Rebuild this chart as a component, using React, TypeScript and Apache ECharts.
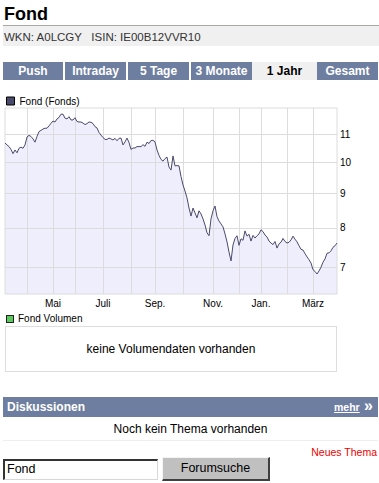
import React, { useEffect, useRef } from "react";
import * as echarts from "echarts";

// ---- data ----
const monthKeys = [
  "2008-03", "2008-04", "2008-05", "2008-06", "2008-07", "2008-08", "2008-09",
  "2008-10", "2008-11", "2008-12", "2009-01", "2009-02", "2009-03",
];
const pricesMar08 = [10.68, 10.61, 10.55, 10.45, 10.3, 10.43, 10.33, 10.49, 10.53, 10.49, 10.61];
const pricesApr08 = [10.9, 10.96, 10.92, 10.83, 10.71, 10.92, 11.1, 11.15, 11.2, 11.23, 11.23, 11.32, 11.42];
const pricesMai08 = [11.51, 11.47, 11.59, 11.65, 11.78, 11.78, 11.62, 11.59, 11.68, 11.55, 11.55];
const pricesJun08 = [11.64, 11.49, 11.47, 11.47, 11.43, 11.37, 11.41, 11.47, 11.46, 11.41, 11.29, 11.24, 11.07, 10.97];
const pricesJul08 = [10.88, 10.81, 10.81, 10.86, 10.83, 10.79, 10.85, 10.76, 10.85, 10.86, 10.61, 10.72, 10.86, 10.7];
const pricesAug08 = [10.45, 10.5, 10.5, 10.55, 10.55, 10.55, 10.62, 10.56, 10.71, 10.66, 10.77, 10.78];
const pricesSep08 = [10.72, 10.43, 10.24, 10.1, 10.04, 10.13, 10.18, 9.84, 9.74, 10.22, 9.88, 9.89, 9.88, 9.53];
const pricesOkt08 = [9.26, 9.07, 8.86, 8.56, 8.33, 8.56, 8.42, 8.28, 8.48, 8.39, 8.25, 8.08, 7.87, 7.79, 8.25];
const pricesNov08 = [8.48, 8.62, 8.31, 8.19, 8.11, 8.03, 7.84, 7.63, 7.37, 7.15, 7.55, 7.72, 7.79];
const pricesDez08 = [7.54, 7.71, 7.67, 7.92, 7.78, 7.83, 7.65, 7.8, 7.73, 7.79, 7.84];
const pricesJan09 = [7.95, 7.9, 7.81, 7.76, 7.65, 7.6, 7.56, 7.64, 7.47, 7.58, 7.62, 7.72, 7.64];
const pricesFeb09 = [7.6, 7.62, 7.68, 7.78, 7.7, 7.63, 7.53, 7.44, 7.42, 7.33, 7.25, 7.18, 7.1];
const pricesMar09 = [6.94, 6.9, 6.84, 6.91, 7.0, 7.12, 7.2, 7.34, 7.35, 7.4, 7.49, 7.53, 7.6];

const monthlyPrices = [
  pricesMar08, pricesApr08, pricesMai08, pricesJun08, pricesJul08, pricesAug08, pricesSep08,
  pricesOkt08, pricesNov08, pricesDez08, pricesJan09, pricesFeb09, pricesMar09,
];
const tickMonths = ["2008-05", "2008-07", "2008-09", "2008-11", "2009-01", "2009-03"];
const tickLabels = ["Mai", "Juli", "Sep.", "Nov.", "Jan.", "März"];
const priceTicks = [7, 8, 9, 10, 11];
const priceMin = 6.39;
const priceMax = 12.03;
const seriesName = "Fond (Fonds)";

// ---- derived ----
const categories: string[] = [];
const prices: number[] = [];
const monthStart: number[] = [];
monthlyPrices.forEach((arr, m) => {
  monthStart.push(categories.length);
  arr.forEach((v, k) => {
    categories.push(`${monthKeys[m]}/${k + 1}`);
    prices.push(v);
  });
});
const gridIdx = new Set(monthStart.slice(1));
const labelAt = new Map<number, string>();
tickMonths.forEach((mk, j) => labelAt.set(monthStart[monthKeys.indexOf(mk)], tickLabels[j]));

const CF = "'Liberation Sans', Arial, sans-serif";
const PF = "'Liberation Sans', Arial, sans-serif";
const BAR = "#6e7ea0";
const GRID = "#dcdcdc";

function Chart() {
  const ref = useRef<HTMLDivElement>(null);
  useEffect(() => {
    if (!ref.current) return;
    const chart = echarts.init(ref.current, undefined, { renderer: "svg" });
    const logData = prices.map((v) => Math.log(v));
    chart.setOption({
      animation: false,
      legend: {
        show: true,
        left: 6,
        top: 6,
        padding: 0,
        icon: "rect",
        itemWidth: 8,
        itemHeight: 8,
        data: [seriesName],
        textStyle: { fontFamily: CF, fontSize: 10, color: "#000" },
        itemStyle: { color: "#4a4a6b", borderColor: "#000", borderWidth: 1 },
        selectedMode: false,
      },
      grid: {
        left: 5,
        top: 18,
        width: 332,
        height: 186,
        show: true,
        backgroundColor: "transparent",
        borderColor: GRID,
        borderWidth: 1,
        z: 3,
      },
      xAxis: {
        type: "category",
        data: categories,
        boundaryGap: false,
        z: 3,
        axisLine: { show: false },
        axisTick: { show: false },
        splitLine: {
          show: true,
          interval: (index: number) => gridIdx.has(index),
          lineStyle: { color: GRID, width: 1 },
        },
        axisLabel: {
          interval: (index: number) => labelAt.has(index),
          formatter: (_v: string, index: number) => labelAt.get(index) ?? "",
          color: "#000",
          fontFamily: CF,
          fontSize: 10,
          margin: 4,
        },
      },
      yAxis: {
        type: "value",
        position: "right",
        min: Math.log(priceMin),
        max: Math.log(priceMax),
        z: 3,
        axisLine: { show: false },
        axisTick: { show: false, customValues: priceTicks.map((v) => Math.log(v)) },
        splitLine: { show: true, lineStyle: { color: GRID, width: 1 } },
        axisLabel: {
          customValues: priceTicks.map((v) => Math.log(v)),
          formatter: (v: number) => String(Math.round(Math.exp(v))),
          color: "#000",
          fontFamily: CF,
          fontSize: 10,
          margin: 3,
        },
      },
      series: [
        {
          name: seriesName,
          type: "line",
          data: logData,
          showSymbol: false,
          symbol: "none",
          silent: true,
          z: 1,
          lineStyle: { width: 0, opacity: 0 },
          areaStyle: { color: "#eeeefd", opacity: 1, origin: "start" },
        },
        {
          name: seriesName,
          type: "line",
          data: logData,
          showSymbol: false,
          symbol: "none",
          silent: true,
          z: 4,
          lineStyle: { width: 1, color: "#4a4a6b" },
          itemStyle: { color: "#4a4a6b" },
        },
      ],
    });
    return () => chart.dispose();
  }, []);
  return <div ref={ref} style={{ position: "absolute", left: 0, top: 90, width: 379, height: 220 }} />;
}

const abs = (s: React.CSSProperties): React.CSSProperties => ({ position: "absolute", ...s });

function Tab({ left, width, label, active }: { left: number; width: number; label: string; active?: boolean }) {
  return (
    <div
      style={abs({
        left,
        top: 62,
        width,
        height: 18,
        background: active ? "#f0f0f0" : BAR,
        color: active ? "#000" : "#fff",
        fontFamily: PF,
        fontWeight: "bold",
        fontSize: 12,
        lineHeight: "18px",
        textAlign: "center",
      })}
    >
      {label}
    </div>
  );
}

export default function App() {
  return (
    <div style={abs({ left: 0, top: 0, width: 379, height: 483, background: "#fff", overflow: "hidden", fontFamily: PF })}>
      <div style={abs({ left: 4, top: 4, fontSize: 18, fontWeight: "bold", lineHeight: "21px", color: "#000" })}>Fond</div>
      <div style={abs({ left: 3, top: 25, width: 376, height: 1, background: "#a3ada3" })} />
      <div style={abs({ left: 3, top: 26, width: 376, height: 20, background: "#f0f0f0" })} />
      <div style={abs({ left: 4, top: 29, fontSize: 11.5, lineHeight: "16px", color: "#333", whiteSpace: "pre" })}>
        {"WKN: A0LCGY   ISIN: IE00B12VVR10"}
      </div>

      <Tab left={3} width={60} label="Push" />
      <Tab left={65} width={61} label="Intraday" />
      <Tab left={128} width={61} label="5 Tage" />
      <Tab left={191} width={61} label="3 Monate" />
      <Tab left={252} width={65} label="1 Jahr" active />
      <Tab left={317} width={61} label="Gesamt" />

      <Chart />

      <div style={abs({ left: 6, top: 315, width: 8, height: 8, boxSizing: "border-box", background: "#5cc95c", border: "1px solid #222" })} />
      <div style={abs({ left: 18, top: 312, fontSize: 10, lineHeight: "14px", color: "#000" })}>Fond Volumen</div>
      <div
        style={abs({
          left: 5,
          top: 326,
          width: 332,
          height: 46,
          boxSizing: "border-box",
          border: "1px solid #dddddd",
          fontSize: 12,
          lineHeight: "44px",
          textAlign: "center",
          color: "#000",
        })}
      >
        keine Volumendaten vorhanden
      </div>

      <div style={abs({ left: 3, top: 397, width: 375, height: 20, background: BAR })} />
      <div style={abs({ left: 7, top: 397, fontSize: 12, fontWeight: "bold", lineHeight: "20px", color: "#fff" })}>Diskussionen</div>
      <div style={abs({ left: 334, top: 397, fontSize: 10.5, fontWeight: "bold", lineHeight: "20px", color: "#fff", textDecoration: "underline" })}>mehr</div>
      <div style={abs({ left: 364, top: 396, fontSize: 16, fontWeight: "bold", lineHeight: "20px", color: "#fff" })}>»</div>

      <div style={abs({ left: 3, top: 421, width: 375, fontSize: 12, lineHeight: "16px", textAlign: "center", color: "#000" })}>
        Noch kein Thema vorhanden
      </div>
      <div style={abs({ left: 3, top: 440, width: 375, height: 1, background: "#eeeeee" })} />
      <div style={abs({ right: 2, top: 445, fontSize: 10.5, lineHeight: "14px", color: "#ee0000" })}>Neues Thema</div>

      <div
        style={abs({
          left: 3,
          top: 459,
          width: 155,
          height: 21,
          boxSizing: "border-box",
          borderTop: "2px solid #333",
          borderLeft: "2px solid #333",
          borderBottom: "1px solid #d8d8d8",
          borderRight: "1px solid #d8d8d8",
          background: "#fff",
          fontSize: 12.5,
          lineHeight: "17px",
          paddingLeft: 2,
          color: "#000",
        })}
      >
        Fond
      </div>
      <div
        style={abs({
          left: 162,
          top: 457,
          width: 108,
          height: 24,
          boxSizing: "border-box",
          background: "#c0c0c0",
          borderTop: "1px solid #f4f4f4",
          borderLeft: "1px solid #f4f4f4",
          borderBottom: "2px solid #404040",
          borderRight: "2px solid #404040",
          fontSize: 12.5,
          lineHeight: "20px",
          textAlign: "center",
          color: "#000",
        })}
      >
        Forumsuche
      </div>
    </div>
  );
}
